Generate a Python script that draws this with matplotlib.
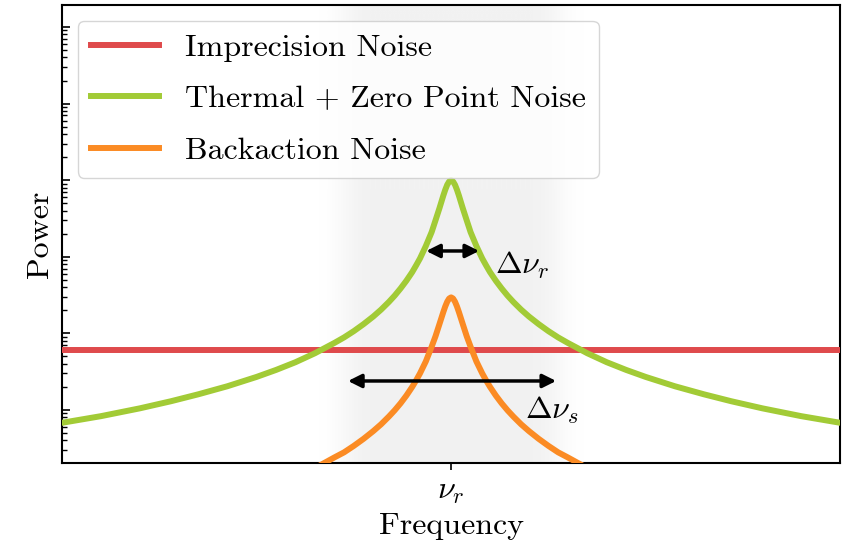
import numpy as np
import matplotlib
matplotlib.use('agg')
import matplotlib.pyplot as plt
from matplotlib.colors import ListedColormap

plt.rcParams['font.family'] = ['cmr10', 'DejaVu Serif']
plt.rcParams['mathtext.fontset'] = 'cm'
plt.rcParams['axes.formatter.use_mathtext'] = True
plt.rcParams['font.size'] = 23

# frequency offset from resonance (nu_r at 1.0), both sides mirrored
offsets = [0.0, 0.005, 0.01, 0.015, 0.02, 0.03, 0.04, 0.05, 0.065, 0.08, 0.09,
           0.1, 0.115, 0.13, 0.145, 0.16, 0.18, 0.2, 0.225, 0.25, 0.275, 0.3,
           0.35, 0.4, 0.45, 0.5, 0.575, 0.65, 0.72, 0.8, 0.9, 1.0]
thermal = [10000, 9600, 8700, 7500, 6300, 4300, 3000, 2100, 1380, 950, 770,
           630, 486, 385, 311, 257, 204, 166, 132, 107, 88.6, 75,
           55, 42, 33.3, 27, 20.4, 16, 13.0, 10.5, 8.3, 6.8]
backaction = [295, 285, 259, 225, 190, 132, 92, 67, 43, 30, 24.3,
              20, 15.4, 12.2, 9.9, 8.2, 6.5, 5.3, 4.2, 3.4, 2.8, 2.4,
              1.74, 1.3, None, None, None, None, None, None, None, None]
imprecision = 60.0

nu_r = 1.0
freq_lim = (0.0, 2.0)
power_lim = (2.03, 1.94e6)


def mirrored(offs, vals):
    pairs = [(o, v) for o, v in zip(offs, vals) if v is not None]
    xs = [nu_r - o for o, v in pairs[::-1]] + [nu_r + o for o, v in pairs[1:]]
    ys = [v for o, v in pairs[::-1]] + [v for o, v in pairs[1:]]
    return xs, ys


fig = plt.figure(figsize=(8.53, 5.46), dpi=100)
ax = fig.add_axes([0.0727, 0.152, 0.9123, 0.839])
ax.set_yscale('log')

# soft grey band around resonance
xx = np.linspace(freq_lim[0], freq_lim[1], 800)
half = 0.275
fade = 0.14
prof = np.clip((half - np.abs(xx - nu_r)) / fade + 0.5, 0, 1)
prof = 0.5 - 0.5 * np.cos(np.pi * prof)
ax.imshow(prof[None, :], extent=[freq_lim[0], freq_lim[1], power_lim[0], power_lim[1]],
          aspect='auto', cmap=ListedColormap(np.linspace([1, 1, 1], [0.949, 0.949, 0.949], 256)),
          vmin=0, vmax=1, zorder=0, interpolation='bilinear')

ax.plot(freq_lim, [imprecision, imprecision], color='#df4a4c', lw=4.3,
        label='Imprecision Noise', zorder=3)
tx, ty = mirrored(offsets, thermal)
ax.plot(tx, ty, color='#a2cb36', lw=4.3, label='Thermal + Zero Point Noise', zorder=3)
bx, by = mirrored(offsets, backaction)
ax.plot(bx, by, color='#fb8b24', lw=4.3, label='Backaction Noise', zorder=3)

ax.annotate('', xy=(0.936, 1190), xytext=(1.072, 1190),
            arrowprops=dict(arrowstyle='<|-|>', color='black', lw=2.5,
                            mutation_scale=20, shrinkA=0, shrinkB=0), zorder=4)
ax.annotate('', xy=(0.735, 23.9), xytext=(1.270, 23.9),
            arrowprops=dict(arrowstyle='<|-|>', color='black', lw=2.5,
                            mutation_scale=20, shrinkA=0, shrinkB=0), zorder=4)
ax.text(1.113, 780, r'$\Delta\nu_r$', ha='left', va='center', fontsize=23)
ax.text(1.190, 9.8, r'$\Delta\nu_s$', ha='left', va='center', fontsize=23)

ax.set_xlim(*freq_lim)
ax.set_ylim(*power_lim)
ax.set_xticks([nu_r])
ax.set_xticklabels([r'$\nu_r$'])
ax.tick_params(axis='x', direction='out', length=5, width=1.2, labelsize=23, pad=6)
ax.tick_params(axis='y', which='major', direction='in', length=6, width=1.2, labelleft=False)
ax.tick_params(axis='y', which='minor', direction='in', length=3.5, width=1.0, labelleft=False)
for sp in ax.spines.values():
    sp.set_linewidth(1.5)

ax.set_xlabel('Frequency', fontsize=23, labelpad=5)
ax.set_ylabel('Power', fontsize=23, labelpad=6)

leg = ax.legend(loc='upper left', fontsize=23, handlelength=2.15, borderaxespad=0.5,
                framealpha=0.8, fancybox=True, handletextpad=0.8, labelspacing=0.72)

fig.savefig('out.png', dpi=100)
